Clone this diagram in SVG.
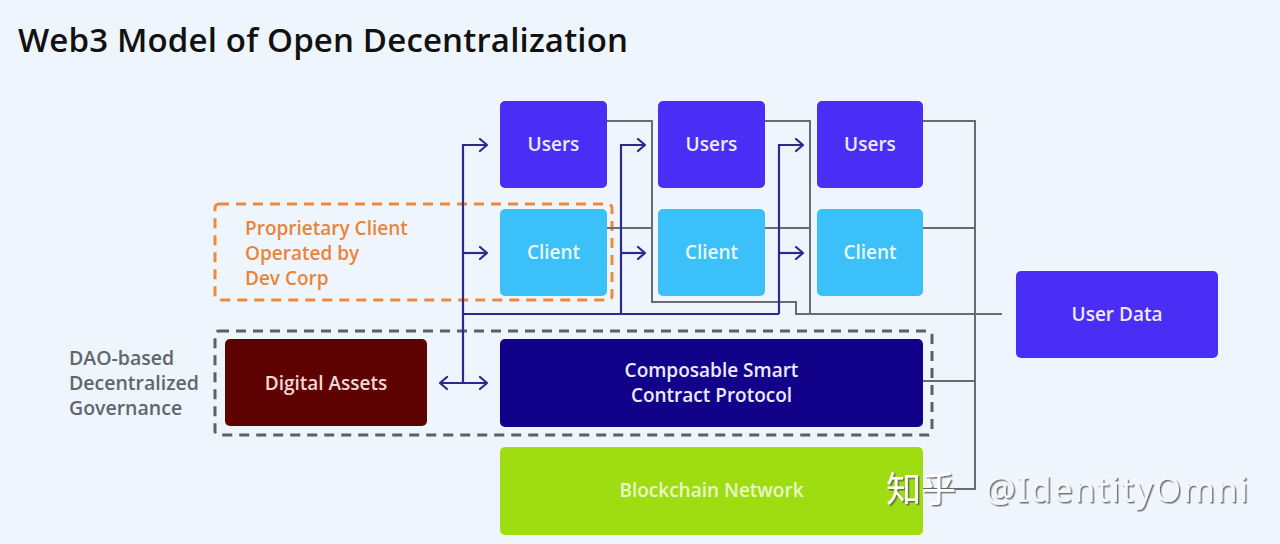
<svg xmlns="http://www.w3.org/2000/svg" width="1280" height="544" viewBox="0 0 1280 544">
<defs>
<style>
.t{font-family:"Open Sans","Liberation Sans",sans-serif;font-weight:600;}
.lbl{font-size:19px;text-anchor:middle;}
.navy{fill:none;stroke:#2c2a8c;stroke-width:2.2;}
.gray{fill:none;stroke:#686b70;stroke-width:2;}
</style>
<marker id="ah" markerUnits="userSpaceOnUse" markerWidth="12" markerHeight="16" refX="9" refY="7" orient="auto-start-reverse" viewBox="0 0 12 16">
<path d="M2,1 L9,7 L2,13" fill="none" stroke="#2c2a8c" stroke-width="2.2" stroke-linecap="round" stroke-linejoin="round"/>
</marker>
<filter id="sh" x="-10%" y="-30%" width="130%" height="160%">
<feDropShadow dx="1.5" dy="1.5" stdDeviation="0.6" flood-color="#555" flood-opacity="0.8"/>
</filter>
</defs>
<rect width="1280" height="544" fill="#eef5fc"/>
<text class="t" x="18" y="52" font-size="33" fill="#111" textLength="610">Web3 Model of Open Decentralization</text>

<g id="groups">
<rect x="215" y="204" width="397" height="96" rx="4" fill="none" stroke="#ee8a3e" stroke-width="3" stroke-dasharray="10 7"/>
<text class="t" font-size="19" fill="#e9843c"><tspan x="245" y="235">Proprietary Client</tspan><tspan x="245" y="260">Operated by</tspan><tspan x="245" y="285">Dev Corp</tspan></text>
<rect x="215" y="331" width="717" height="104" rx="4" fill="none" stroke="#5c6168" stroke-width="3" stroke-dasharray="10 7"/>
<text class="t" font-size="19.5" fill="#5f666e"><tspan x="69" y="365">DAO-based</tspan><tspan x="69" y="390">Decentralized</tspan><tspan x="69" y="415">Governance</tspan></text>
</g>

<g id="connectors">
<path class="gray" d="M607,121 H652 V302 H796 V314 H1002 M607,228 H652 M765,121 H810 V314 M765,228 H810 M923,121 H975 V489 H923 M923,228 H975 M923,381 H975"/>
<path class="navy" d="M463,383 V145 H487" marker-end="url(#ah)"/>
<path class="navy" d="M463,253 H487" marker-end="url(#ah)"/>
<path class="navy" d="M463,314 H779"/>
<path class="navy" d="M621,314 V145 H645" marker-end="url(#ah)"/>
<path class="navy" d="M621,253 H645" marker-end="url(#ah)"/>
<path class="navy" d="M779,314 V145 H803" marker-end="url(#ah)"/>
<path class="navy" d="M779,253 H803" marker-end="url(#ah)"/>
<path class="navy" d="M440,383 H487" marker-start="url(#ah)" marker-end="url(#ah)"/>
</g>

<g id="users1"><rect x="500" y="101" width="107" height="87" rx="5" fill="#4a2ef5"/><text class="t lbl" x="553.5" y="151" fill="#eeeaff">Users</text></g>
<g id="users2"><rect x="658" y="101" width="107" height="87" rx="5" fill="#4a2ef5"/><text class="t lbl" x="711.5" y="151" fill="#eeeaff">Users</text></g>
<g id="users3"><rect x="817" y="101" width="106" height="87" rx="5" fill="#4a2ef5"/><text class="t lbl" x="870" y="151" fill="#eeeaff">Users</text></g>
<g id="client1"><rect x="500" y="209" width="107" height="87" rx="5" fill="#3cc0fa"/><text class="t lbl" x="553.5" y="259" fill="#eaf8ff">Client</text></g>
<g id="client2"><rect x="658" y="209" width="107" height="87" rx="5" fill="#3cc0fa"/><text class="t lbl" x="711.5" y="259" fill="#eaf8ff">Client</text></g>
<g id="client3"><rect x="817" y="209" width="106" height="87" rx="5" fill="#3cc0fa"/><text class="t lbl" x="870" y="259" fill="#eaf8ff">Client</text></g>
<g id="userdata"><rect x="1016" y="271" width="202" height="87" rx="5" fill="#4a2ef5"/><text class="t lbl" x="1117" y="321" fill="#eeeaff">User Data</text></g>
<g id="digitalassets"><rect x="225" y="339" width="202" height="87" rx="5" fill="#5e0200"/><text class="t lbl" x="326" y="390" fill="#f6d8d2">Digital Assets</text></g>
<g id="protocol"><rect x="500" y="339" width="423" height="88" rx="5" fill="#12028a"/><text class="t lbl" fill="#eeeaff"><tspan x="711.5" y="377">Composable Smart</tspan><tspan x="711.5" y="402">Contract Protocol</tspan></text></g>
<g id="blockchain"><rect x="500" y="447" width="423" height="88" rx="5" fill="#9fdc12"/><text class="t lbl" x="711.5" y="497" font-size="18" fill="#eaf7c8">Blockchain Network</text></g>

<g id="watermark" filter="url(#sh)">
<text x="886" y="502" font-family="'Noto Sans CJK SC',sans-serif" font-size="35" fill="#ffffff">知乎</text>
<text x="985" y="502" font-family="'Noto Sans','Liberation Sans',sans-serif" font-size="34" fill="#f4f6f8" textLength="263">@IdentityOmni</text>
</g>
</svg>
